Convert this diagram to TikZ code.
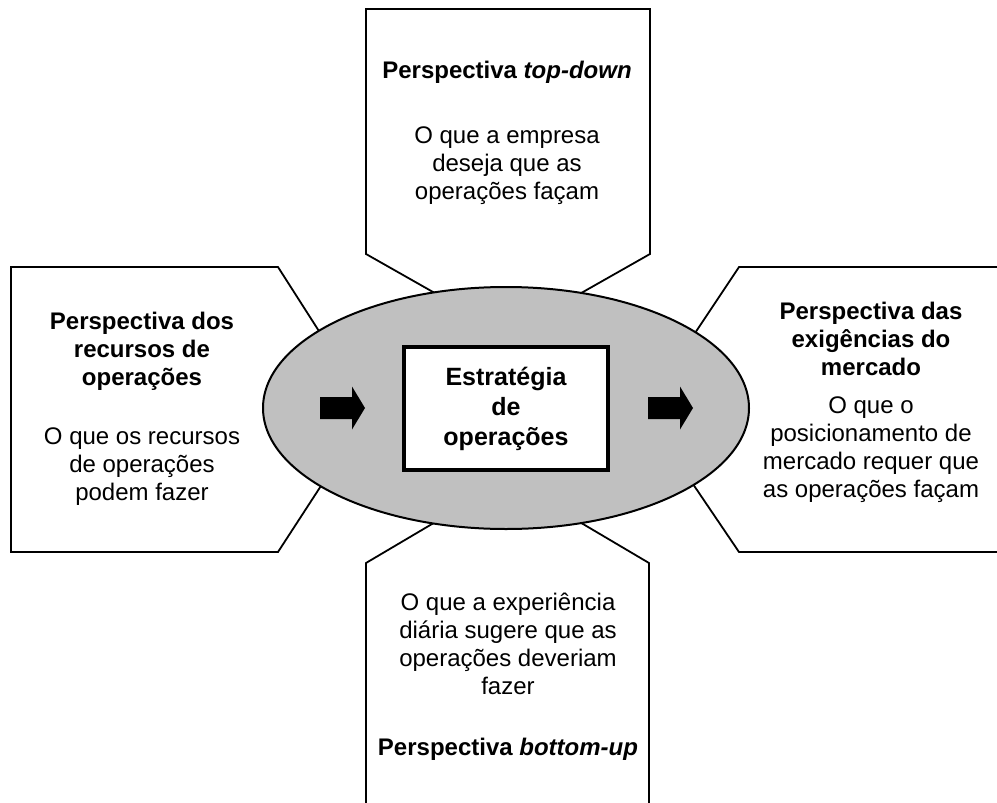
\documentclass[tikz,border=0pt]{standalone}
\usepackage{fontspec}
\setmainfont{Liberation Sans}
\usetikzlibrary{calc,shapes.geometric}
\definecolor{ovalgray}{HTML}{C0C0C0}
\begin{document}
\begin{tikzpicture}[x=1pt,y=-1pt,
  callout/.style={draw=black, fill=white, line width=1.8pt, line join=miter},
  bodytext/.style={align=center, inner sep=0pt, font=\fontsize{24}{28}\selectfont},
  titletext/.style={align=center, inner sep=0pt, font=\fontsize{24}{28}\selectfont\bfseries},
  oval/.style={ellipse, draw=black, fill=ovalgray, line width=2pt, inner sep=0pt},
  corebox/.style={rectangle, draw=black, fill=white, line width=3.5pt, align=center,
    font=\fontsize{25}{30}\selectfont\bfseries},
  blockarrow/.pic={\fill[black] (0,-11) -- (32,-11) -- (32,-21.5) -- (45,0)
    -- (32,21.5) -- (32,11) -- (0,11) -- cycle;}
]
\useasboundingbox (0,0) rectangle (997,803);

% callout corners and the points where their sides meet the oval
\coordinate (t1) at (366,254);  \coordinate (t1e) at (433,292);
\coordinate (t2) at (650,254);  \coordinate (t2e) at (583,292);
\coordinate (l1) at (278,267);  \coordinate (l1e) at (317,328);
\coordinate (l2) at (278,552);  \coordinate (l2e) at (317,492);
\coordinate (r1) at (739,267);  \coordinate (r1e) at (697,330);
\coordinate (r2) at (739,552);  \coordinate (r2e) at (697,490);
\coordinate (b1) at (366,563);  \coordinate (b1e) at (432,524);
\coordinate (b2) at (649,563);  \coordinate (b2e) at (583,524);

% top callout
\draw[callout] ($(t1)!1.4!(t1e)$) -- (t1) -- (366,9) -- (650,9) -- (t2) -- ($(t2)!1.4!(t2e)$);
% left callout
\draw[callout] ($(l1)!1.4!(l1e)$) -- (l1) -- (11,267) -- (11,552) -- (l2) -- ($(l2)!1.4!(l2e)$);
% right callout (runs off the right edge)
\draw[callout] ($(r1)!1.4!(r1e)$) -- (r1) -- (1005,267) -- (1005,552) -- (r2) -- ($(r2)!1.4!(r2e)$);
% bottom callout (runs off the bottom edge)
\draw[callout] ($(b1)!1.4!(b1e)$) -- (b1) -- (366,812) -- (649,812) -- (b2) -- ($(b2)!1.4!(b2e)$);

% central oval, box and arrows
\node[oval, minimum width=486pt, minimum height=242pt] (hub) at (506,408) {};
\node[corebox, minimum width=204pt, minimum height=123pt] (core) at (506,408.5)
  {Estratégia\\de\\operações};
\pic at (320,408) {blockarrow};
\pic at (648,408) {blockarrow};

% texts
\node[titletext, anchor=base] (toptitle) at (507,78) {Perspectiva \textit{top-down}};
\node[bodytext] (topbody) at (507,166) {O que a empresa\\deseja que as\\operações façam};

\node[titletext] (lefttitle) at (142,351) {Perspectiva dos\\recursos de\\operações};
\node[bodytext] (leftbody) at (142,467) {O que os recursos\\de operações\\podem fazer};

\node[titletext] (righttitle) at (871,339) {Perspectiva das\\exigências do\\mercado};
\node[bodytext] (rightbody) at (871,450) {O que o\\posicionamento de\\mercado requer que\\as operações façam};

\node[bodytext] (botbody) at (508,644) {O que a experiência\\diária sugere que as\\operações deveriam\\fazer};
\node[titletext, anchor=base] (bottitle) at (508,755) {Perspectiva \textit{bottom-up}};
\end{tikzpicture}
\end{document}
